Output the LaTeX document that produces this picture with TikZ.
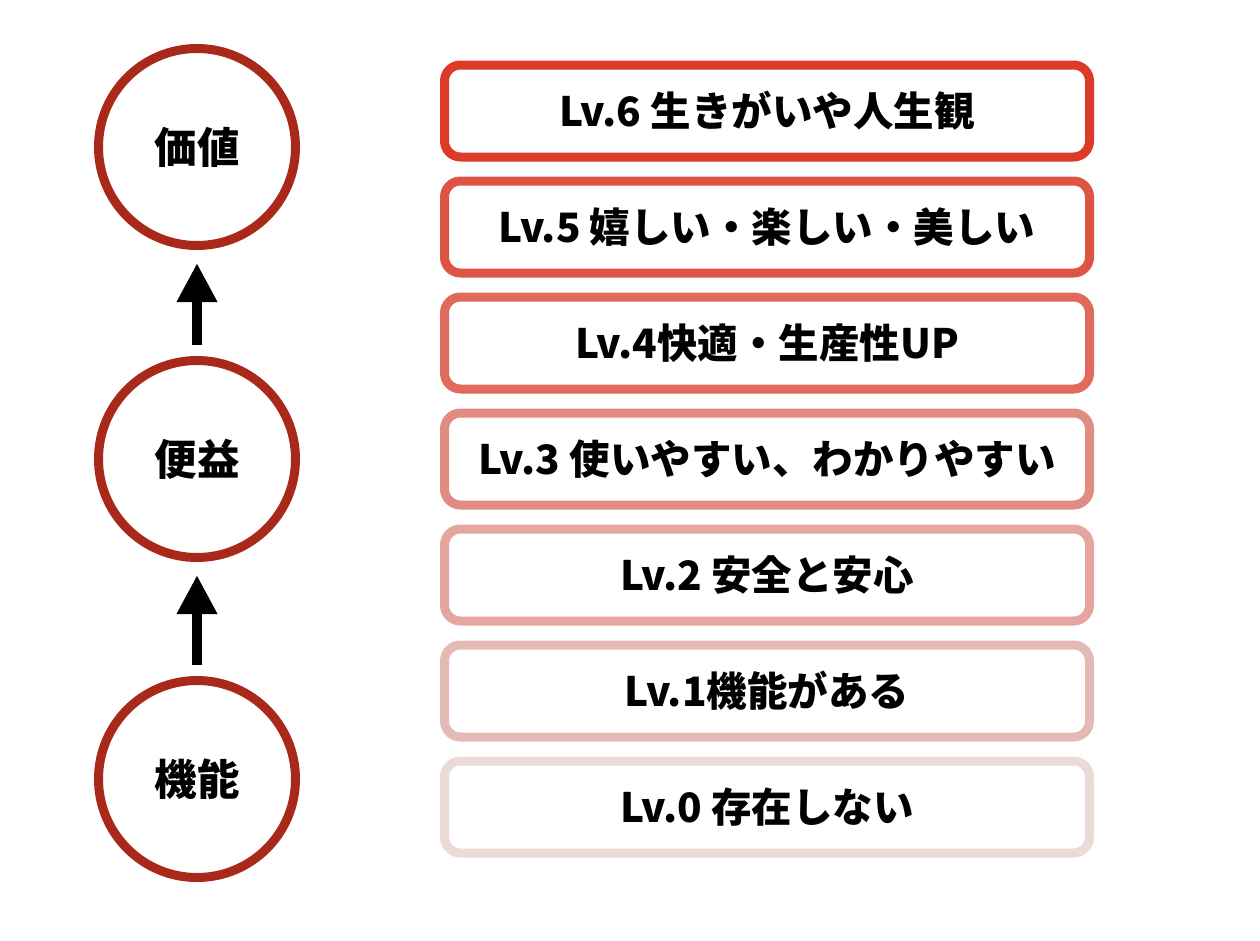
\documentclass[tikz,border=0pt]{standalone}
\usepackage{fontspec}
\setmainfont{Noto Sans CJK JP}
\usetikzlibrary{arrows.meta}
\definecolor{circ}{HTML}{A8291A}
\definecolor{c6}{HTML}{DB3B28}
\definecolor{c5}{HTML}{DD5445}
\definecolor{c4}{HTML}{E06A5C}
\definecolor{c3}{HTML}{E28B82}
\definecolor{c2}{HTML}{E4A69E}
\definecolor{c1}{HTML}{E6BAB4}
\definecolor{c0}{HTML}{EBDAD7}
\tikzset{
  lvbox/.style={draw=#1, line width=9pt, rounded corners=16pt, minimum width=645pt, minimum height=92pt, fill=white, inner sep=0pt, font=\bfseries\fontsize{40.5}{40.5}\selectfont},
  ring/.style={circle, draw=circ, line width=9pt, minimum size=197pt, inner sep=0pt, fill=white, font=\bfseries\fontsize{42.5}{42.5}\selectfont},
  uparrow/.style={line width=10pt, -{Triangle[width=38pt,length=39pt]}}
}
\begin{document}
\begin{tikzpicture}[x=1pt,y=-1pt]
\useasboundingbox (0,0) rectangle (1260,940);
\node[lvbox=c6] (l6) at (767,111) {Lv.6 生きがいや人生観};
\node[lvbox=c5] (l5) at (767,227) {Lv.5 嬉しい・楽しい・美しい};
\node[lvbox=c4] (l4) at (767,343) {Lv.4快適・生産性UP};
\node[lvbox=c3] (l3) at (767,459) {Lv.3 使いやすい、わかりやすい};
\node[lvbox=c2] (l2) at (767,575) {Lv.2 安全と安心};
\node[lvbox=c1] (l1) at (767,691) {Lv.1機能がある};
\node[lvbox=c0] (l0) at (767,807) {Lv.0 存在しない};
\node[ring] (kachi) at (197,147) {価値};
\node[ring] (beneki) at (197,459) {便益};
\node[ring] (kinou) at (197,779) {機能};
\draw[uparrow] ([yshift=11pt]beneki.north) -- ([yshift=-13pt]kachi.south);
\draw[uparrow] ([yshift=11pt]kinou.north) -- ([yshift=-13pt]beneki.south);
\end{tikzpicture}
\end{document}
